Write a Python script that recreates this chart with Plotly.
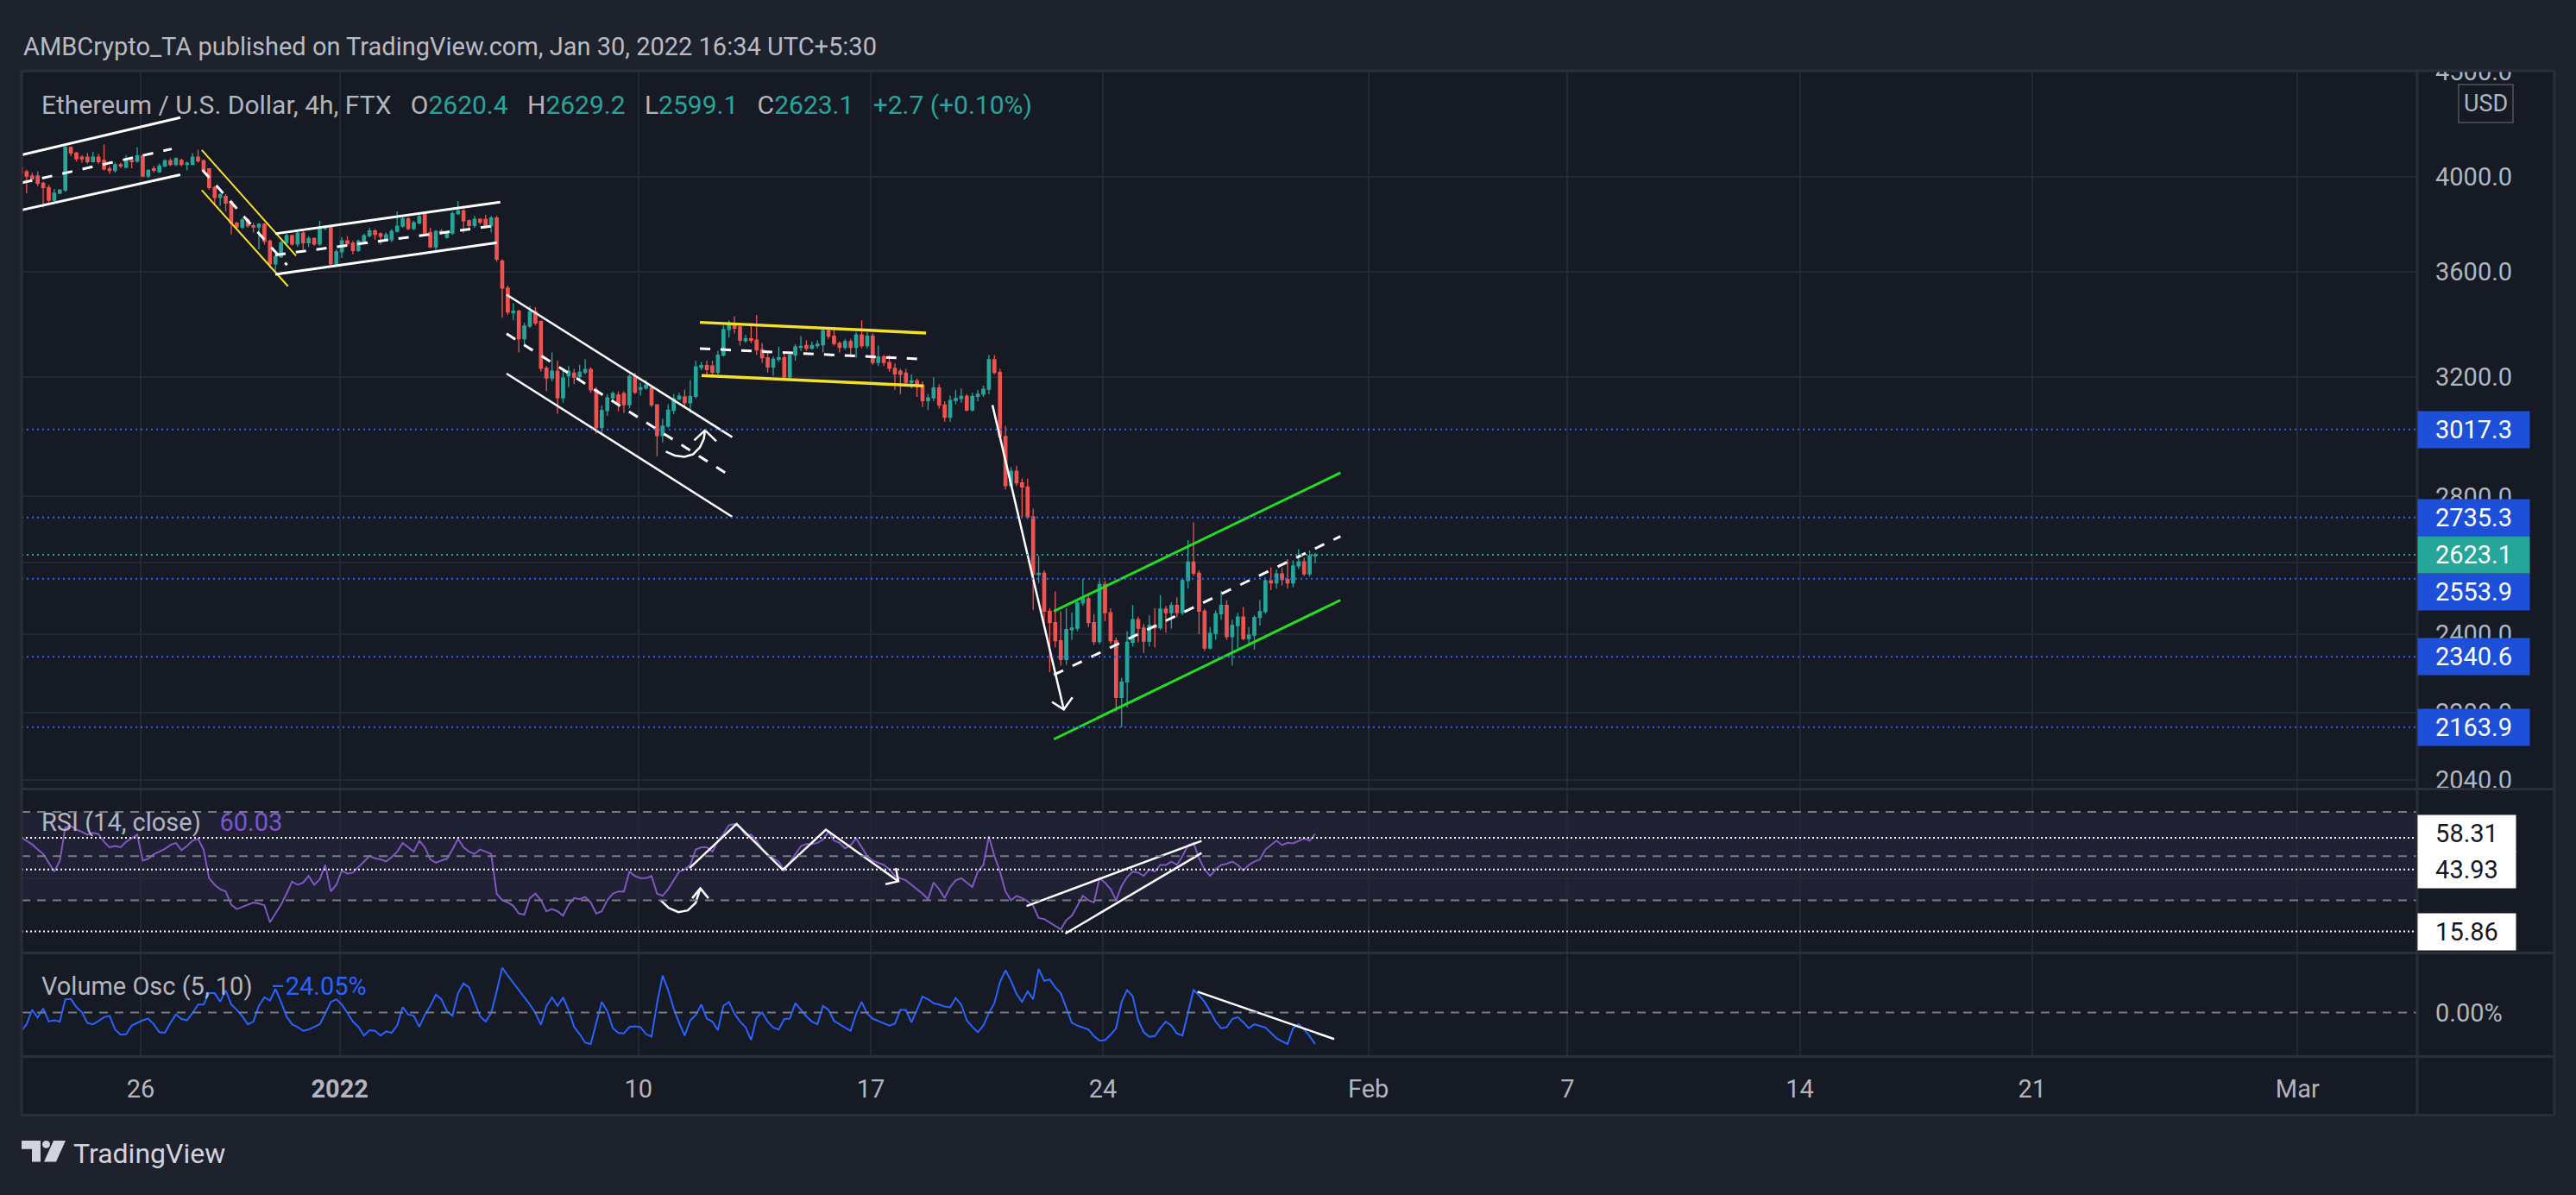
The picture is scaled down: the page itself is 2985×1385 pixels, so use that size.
import math
import pandas as pd
import plotly.graph_objects as go

W, H = 2985, 1385

# ---------------- data ----------------
times = pd.date_range("2021-12-22 09:30", periods=235, freq="4h")

opens = [
    4044, 4024, 4005, 4005, 3973, 3954, 3898, 3929, 3942, 4135,
    4109, 4090, 4090, 4070, 4090, 4076, 4037, 4030, 4056, 4044,
    4076, 4072, 4096, 4005, 4037, 4024, 4050, 4074, 4057, 4076,
    4057, 4057, 4090, 4074, 4037, 3954, 3910, 3915, 3892, 3800,
    3783, 3813, 3789, 3783, 3795, 3724, 3631, 3660, 3717, 3747,
    3712, 3758, 3717, 3735, 3712, 3777, 3785, 3631, 3680, 3725,
    3715, 3685, 3724, 3747, 3767, 3755, 3735, 3730, 3765, 3787,
    3818, 3777, 3801, 3835, 3760, 3700, 3765, 3740, 3758, 3840,
    3852, 3810, 3790, 3816, 3816, 3790, 3822, 3642, 3534, 3437,
    3444, 3339, 3387, 3441, 3404, 3231, 3196, 3221, 3126, 3204,
    3214, 3201, 3217, 3227, 3154, 3024, 3082, 3126, 3136, 3141,
    3102, 3201, 3156, 3161, 3161, 3102, 2997, 3029, 3083, 3122,
    3129, 3109, 3131, 3234, 3241, 3239, 3216, 3279, 3374, 3389,
    3384, 3332, 3339, 3334, 3299, 3269, 3236, 3264, 3269, 3199,
    3279, 3307, 3314, 3304, 3314, 3317, 3369, 3349, 3322, 3307,
    3329, 3307, 3354, 3314, 3349, 3252, 3272, 3252, 3231, 3221,
    3214, 3181, 3186, 3171, 3116, 3126, 3161, 3101, 3059, 3117,
    3124, 3131, 3084, 3131, 3139, 3156, 3262, 3216, 2994, 2834,
    2880, 2843, 2830, 2737, 2566, 2570, 2463, 2432, 2383, 2334,
    2413, 2417, 2486, 2498, 2432, 2381, 2538, 2459, 2383, 2237,
    2276, 2379, 2440, 2417, 2382, 2424, 2418, 2469, 2459, 2479,
    2459, 2549, 2602, 2570, 2463, 2364, 2403, 2456, 2479, 2394,
    2424, 2447, 2389, 2398, 2446, 2462, 2548, 2542, 2568, 2552,
    2542, 2591, 2603, 2568, 2620.4,
]
highs = [
    4056, 4034, 4020, 4025, 3980, 3965, 3948, 3948, 4148, 4140,
    4115, 4100, 4110, 4115, 4105, 4148, 4050, 4065, 4065, 4100,
    4085, 4135, 4105, 4035, 4050, 4060, 4080, 4085, 4090, 4083,
    4070, 4109, 4125, 4080, 4040, 3960, 3929, 3925, 3900, 3805,
    3821, 3820, 3800, 3800, 3800, 3730, 3670, 3725, 3755, 3752,
    3770, 3765, 3745, 3740, 3810, 3790, 3790, 3690, 3740, 3745,
    3725, 3730, 3755, 3780, 3775, 3760, 3760, 3775, 3850, 3835,
    3825, 3810, 3835, 3845, 3780, 3770, 3775, 3765, 3850, 3895,
    3860, 3815, 3830, 3820, 3835, 3830, 3830, 3649, 3544, 3474,
    3449, 3399, 3464, 3459, 3409, 3239, 3289, 3259, 3229, 3239,
    3229, 3244, 3264, 3234, 3164, 3099, 3139, 3149, 3149, 3149,
    3209, 3214, 3179, 3189, 3169, 3104, 3054, 3104, 3139, 3144,
    3154, 3189, 3259, 3254, 3259, 3259, 3294, 3389, 3409, 3424,
    3399, 3354, 3399, 3429, 3324, 3289, 3274, 3309, 3289, 3289,
    3319, 3349, 3334, 3329, 3334, 3384, 3384, 3384, 3329, 3339,
    3339, 3364, 3409, 3364, 3359, 3314, 3279, 3279, 3249, 3229,
    3229, 3209, 3194, 3184, 3139, 3199, 3174, 3114, 3134, 3154,
    3159, 3139, 3144, 3154, 3169, 3279, 3279, 3229, 3030, 2893,
    2898, 2857, 2857, 2762, 2620, 2578, 2472, 2518, 2463, 2471,
    2460, 2495, 2554, 2514, 2455, 2550, 2548, 2471, 2392, 2287,
    2409, 2480, 2448, 2428, 2453, 2471, 2508, 2478, 2488, 2502,
    2556, 2667, 2720, 2578, 2470, 2420, 2465, 2520, 2494, 2440,
    2458, 2475, 2420, 2452, 2494, 2558, 2587, 2580, 2585, 2611,
    2607, 2640, 2615, 2636, 2629.2,
]
lows = [
    4010, 3929, 3980, 3960, 3867, 3885, 3892, 3925, 3935, 4095,
    4070, 4065, 4060, 4065, 4060, 4030, 4015, 4020, 4040, 4040,
    4040, 4065, 4000, 3995, 4020, 4020, 4045, 4050, 4050, 4050,
    4030, 4055, 4065, 4025, 3945, 3874, 3874, 3850, 3752, 3775,
    3775, 3780, 3760, 3690, 3710, 3615, 3602, 3655, 3710, 3705,
    3700, 3690, 3700, 3705, 3705, 3770, 3625, 3620, 3655, 3705,
    3670, 3680, 3715, 3740, 3730, 3710, 3725, 3720, 3760, 3780,
    3770, 3770, 3795, 3750, 3695, 3677, 3750, 3735, 3750, 3835,
    3758, 3780, 3780, 3795, 3780, 3760, 3640, 3419, 3429, 3409,
    3289, 3309, 3379, 3389, 3219, 3149, 3184, 3071, 3109, 3164,
    3174, 3189, 3209, 3144, 3004, 2999, 3064, 3109, 3079, 3074,
    3089, 3139, 3134, 3154, 3094, 2929, 2974, 3024, 3069, 3117,
    3094, 3074, 3124, 3224, 3209, 3199, 3209, 3274, 3344, 3359,
    3314, 3324, 3324, 3279, 3251, 3216, 3204, 3254, 3189, 3184,
    3259, 3294, 3294, 3299, 3304, 3289, 3339, 3314, 3289, 3299,
    3279, 3269, 3304, 3304, 3244, 3239, 3239, 3219, 3154, 3139,
    3174, 3159, 3129, 3094, 3084, 3114, 3089, 3044, 3044, 3104,
    3109, 3079, 3079, 3114, 3129, 3139, 3209, 2984, 2822, 2828,
    2833, 2733, 2730, 2467, 2542, 2428, 2301, 2366, 2318, 2320,
    2386, 2409, 2478, 2420, 2372, 2374, 2436, 2375, 2202, 2164,
    2212, 2368, 2379, 2351, 2368, 2366, 2412, 2405, 2416, 2447,
    2453, 2526, 2562, 2401, 2356, 2360, 2386, 2440, 2386, 2318,
    2364, 2384, 2375, 2360, 2424, 2456, 2522, 2526, 2535, 2526,
    2530, 2582, 2562, 2560, 2599.1,
]
closes = [
    4018, 4005, 3992, 3973, 3954, 3898, 3929, 3942, 4135, 4109,
    4083, 4083, 4070, 4090, 4070, 4037, 4030, 4056, 4050, 4076,
    4070, 4096, 4005, 4031, 4031, 4050, 4074, 4057, 4083, 4057,
    4063, 4090, 4074, 4031, 3954, 3910, 3922, 3886, 3800, 3783,
    3813, 3789, 3783, 3795, 3724, 3631, 3660, 3717, 3747, 3712,
    3758, 3717, 3735, 3712, 3777, 3783, 3631, 3680, 3725, 3715,
    3685, 3724, 3747, 3767, 3752, 3744, 3750, 3765, 3787, 3818,
    3777, 3801, 3828, 3755, 3700, 3765, 3760, 3758, 3840, 3852,
    3810, 3790, 3816, 3804, 3790, 3822, 3650, 3534, 3441, 3444,
    3339, 3387, 3441, 3399, 3231, 3196, 3221, 3126, 3196, 3221,
    3199, 3217, 3227, 3154, 3024, 3082, 3126, 3141, 3107, 3102,
    3201, 3146, 3161, 3171, 3102, 2997, 3029, 3083, 3122, 3132,
    3109, 3131, 3236, 3241, 3226, 3216, 3279, 3374, 3399, 3379,
    3334, 3339, 3334, 3299, 3269, 3236, 3264, 3269, 3199, 3279,
    3309, 3311, 3304, 3314, 3319, 3369, 3349, 3322, 3307, 3329,
    3307, 3354, 3314, 3349, 3252, 3272, 3252, 3231, 3211, 3209,
    3181, 3186, 3171, 3116, 3126, 3161, 3101, 3059, 3117, 3124,
    3131, 3084, 3131, 3139, 3156, 3262, 3216, 2994, 2834, 2880,
    2843, 2830, 2737, 2566, 2570, 2463, 2432, 2383, 2334, 2413,
    2417, 2486, 2498, 2432, 2381, 2538, 2459, 2383, 2237, 2276,
    2379, 2440, 2417, 2382, 2424, 2418, 2469, 2459, 2479, 2459,
    2549, 2602, 2570, 2463, 2364, 2403, 2456, 2479, 2394, 2424,
    2447, 2389, 2398, 2446, 2462, 2548, 2542, 2568, 2552, 2542,
    2591, 2603, 2568, 2620.4, 2623.1,
]
rsi = [
    58.5, 57, 55.3, 53, 51, 47, 43, 48, 63, 63.6,
    62, 61, 59.7, 60.5, 60, 56.5, 54, 54.6, 54, 56.5,
    58, 59.7, 48, 48.8, 50.8, 52, 53.3, 55, 56, 52.7,
    54.6, 57, 57.8, 53, 40, 37, 35, 34, 28, 26,
    27, 28, 29, 28.5, 27.7, 20, 24, 28, 33, 38.5,
    37, 38, 41, 37, 39.5, 46, 34, 37, 43.5, 42,
    42.5, 45, 47.5, 50, 49, 48.5, 47.6, 49.5, 52, 56,
    54, 52, 57, 54, 48.5, 47, 48, 48.8, 53, 57.8,
    54, 52, 51, 53, 52, 51, 33, 30, 29, 27.5,
    24, 23.5, 31, 33, 30, 25, 26, 25, 23, 28,
    31, 30.5, 31.5, 29, 24, 25, 30, 33, 34, 34,
    43, 41, 40, 40, 41, 33, 32, 35, 39, 43,
    44, 46, 53, 54, 54, 52, 57, 60, 64, 64.5,
    63, 59.5, 59.7, 57, 53, 50.5, 49, 47.5, 43.5, 47,
    51, 54.5, 55.5, 55.5, 56, 57.5, 61, 57, 56, 53.5,
    55, 58, 54, 50, 48, 47, 46, 44, 41, 40,
    39, 37, 35, 33, 30.5, 38, 35, 31, 36, 39,
    40, 38, 36, 43, 46, 59, 50, 43, 34, 30,
    32, 31, 29.5, 27.5, 22, 21.5, 20, 18.5, 16.8, 21,
    23, 27.5, 32, 30, 29, 40, 38, 35, 30, 36.5,
    40.5, 43, 42.5, 41, 44, 43, 46, 46, 47.5, 46,
    50, 55, 56, 49, 44, 41, 44, 46, 46.5, 47.5,
    46, 43.5, 46, 47.5, 48.5, 53, 55, 57, 55, 56,
    55.8, 57, 58, 57, 60.03,
]
vol_osc = [
    -14.4, -9, 2, -4, 3, -6.9, -6, -7, 10, 10.3,
    4, 0, -8, -9, -6.5, -3.6, -2.6, -13, -17, -16.5,
    -10, -8, -6, -4.7, -9, -15, -15.5, -8, -1.5, -5,
    -6, -0.4, 6, 6, 14.6, 14.6, 8.2, 16.7, 6, 2,
    -3, -9, -7, 5, 11.4, 9, 17.8, 8, -3, -9,
    -11.2, -14, -13, -11, -9, -1, 8, 10, 6, -0.4,
    -7, -11, -17.6, -13.5, -14, -17.6, -14.4, -15.5, -10, 4,
    -1.5, -2.6, -11, -2, 5, 13.5, 10, 1, -2.6, 14.6,
    22, 19, 8.2, -3, -7, -0.4, 16, 34, 28, 22.5,
    17, 11, 6, -0.4, -9.5, 4.9, 11.4, 5, 11.4, 1.7,
    -11, -16.5, -23, -24, -8, 8, 1, -12, -15.5, -16,
    -11, -10.5, -11.2, -16.5, -18.5, 7, 28, 17, 3, -8,
    -17.6, -6, -2, 6, -4.7, -7, -13.5, 5, 8, -1,
    -6.9, -11.2, -21, -4, 0, -7, -11.5, -13, -5, -4.7,
    7, 1.7, -3, -7, -9, 5, 2, -6.5, -9, -11.2,
    -14, -1, 8, -1, -4.7, -6.5, -8, -10, -8.5, 2,
    1.7, -7.5, 2, 12, 10, 7, 6, 4.5, 3.9, 11,
    6, -6, -11, -15, -10, -0.5, 7, 23, 32, 24,
    14, 8, 16, 10, 33, 24, 25, 19, 14.6, 3,
    -8, -10, -11.5, -13, -18, -21.5, -21, -17, -12, 8,
    17, 12.4, -6, -15, -18.5, -18, -12, -7, -10, -16,
    -17.5, 0, 17, 13, 8, 1, -7, -12, -11.2, -5,
    -3.6, -7.5, -12, -9, -10, -11.5, -15.5, -19.7, -22, -24,
    -12, -9, -13, -18, -24.05,
]

price_levels = [3017.3, 2735.3, 2553.9, 2340.6, 2163.9]
last_price = 2623.1
rsi_levels = [58.31, 43.93, 15.86]
price_ticks = [2040, 2200, 2400, 2600, 2800, 3200, 3600, 4000, 4500]
price_tick_text = ["2040.0", "2200.0", "2400.0", "", "2800.0",
                   "3200.0", "3600.0", "4000.0", "4500.0"]
date_ticks = ["2021-12-26", "2022-01-01", "2022-01-10", "2022-01-17", "2022-01-24",
              "2022-02-01", "2022-02-07", "2022-02-14", "2022-02-21", "2022-03-01"]
date_tick_text = ["26", "<b>2022</b>", "10", "17", "24", "Feb", "7", "14", "21", "Mar"]
x_range = ["2021-12-22 09:51", "2022-03-04 14:35"]

# drawn trendlines (time, value)
ch1_up_t, ch1_up_p = ["2021-12-22 09:51", "2021-12-27 04:42"], [4101, 4275]
ch1_lo_t, ch1_lo_p = ["2021-12-22 10:04", "2021-12-27 04:40"], [3856, 4011]
ch1_mid_t, ch1_mid_p = ["2021-12-22 10:04", "2021-12-26 22:28"], [3975, 4128]
yl1_up_t, yl1_up_p = ["2021-12-27 20:11", "2021-12-30 16:21"], [4123, 3664]
yl1_lo_t, yl1_lo_p = ["2021-12-27 20:11", "2021-12-30 10:33"], [3942, 3541]
yl1_mid_t, yl1_mid_p = ["2021-12-27 20:40", "2021-12-30 09:52"], [4032, 3626]
ch2_up_t, ch2_up_p = ["2021-12-30 01:22", "2022-01-05 20:05"], [3755, 3890]
ch2_lo_t, ch2_lo_p = ["2021-12-30 01:22", "2022-01-05 17:47"], [3588, 3718]
ch2_mid_t, ch2_mid_p = ["2021-12-30 01:22", "2022-01-05 14:02"], [3667, 3787]
fall_t = ["2022-01-06 00:39", "2022-01-12 19:52"]
fall_up_p, fall_lo_p, fall_mid_p = [3508, 2992], [3212, 2737], [3358, 2861]
hook_t = ["2022-01-10 19:49", "2022-01-11 02:22", "2022-01-11 09:14", "2022-01-11 15:29",
          "2022-01-11 20:28", "2022-01-11 23:17", "2022-01-12 00:13"]
hook_p = [2944, 2931, 2927, 2935, 2958, 2986, 3015]
hook_head_t = ["2022-01-11 16:21", "2022-01-12 00:13", "2022-01-12 08:21"]
hook_head_p = [2981, 3015, 2978]
yl2_up_t, yl2_up_p = ["2022-01-11 20:28", "2022-01-18 16:00"], [3401, 3361]
yl2_lo_t, yl2_lo_p = ["2022-01-11 21:43", "2022-01-18 14:08"], [3205, 3168]
yl2_mid_t, yl2_mid_p = ["2022-01-11 20:28", "2022-01-18 14:08"], [3303, 3264]
drop_t, drop_p = ["2022-01-20 16:05", "2022-01-22 19:41"], [3101, 2207]
drop_head_t = ["2022-01-22 11:08", "2022-01-22 19:41", "2022-01-23 01:57"]
drop_head_p = [2226, 2207, 2237]
gr_t = ["2022-01-22 12:30", "2022-01-31 03:48"]
gr_up_p, gr_lo_p, gr_mid_p = [2463, 2875], [2135, 2494], [2294, 2678]

rsi_hook_t = ["2022-01-10 16:05", "2022-01-10 22:00", "2022-01-11 04:52", "2022-01-11 11:44",
              "2022-01-11 17:21", "2022-01-11 20:47"]
rsi_hook_v = [30, 26.5, 24.6, 25.4, 28.8, 35.4]
rsi_hook_head_t = ["2022-01-11 14:53", "2022-01-11 20:47", "2022-01-12 02:42"]
rsi_hook_head_v = [30.9, 35.4, 30.9]
rsi_zig_t = ["2022-01-11 12:58", "2022-01-12 23:02", "2022-01-14 08:24", "2022-01-15 15:36",
             "2022-01-17 20:02"]
rsi_zig_v = [44.6, 64.6, 43.8, 62.0, 38.6]
rsi_zig_head_t = ["2022-01-17 10:41", "2022-01-17 20:02", "2022-01-17 18:10"]
rsi_zig_head_v = [37.3, 38.6, 44.6]
rsi_wa_t, rsi_wa_v = ["2022-01-21 16:44", "2022-01-26 23:20"], [27.4, 56.9]
rsi_wb_t, rsi_wb_v = ["2022-01-22 20:46", "2022-01-26 23:20"], [14.9, 51.4]
vo_line_t, vo_line_v = ["2022-01-26 20:24", "2022-01-30 23:16"], [15.7, -20.2]

# ---------------- style ----------------
BG_OUT = "#1e222d"
BG_PANE = "#161a25"
GRID = "#242834"
BORDER = "#2a2e39"
TXT = "#b2b5be"
UP, DN = "#26a69a", "#ef5350"
BLUE, PURPLE = "#2962ff", "#7e57c2"
LBL_BLUE = "#1e4fd8"
YEL, GRN, WHT = "#f5e12a", "#22dd22", "#ffffff"
FONT = "Roboto"


def px(x):
    return x / W


def py(y):
    return 1 - y / H


XD = [px(25), px(2801)]
Y_MAIN = [py(913), py(67)]
Y_RSI = [py(1106), py(913)]
Y_VO = [py(1228), py(1106)]

fig = go.Figure()

fig.add_trace(go.Candlestick(
    x=times, open=opens, high=highs, low=lows, close=closes,
    increasing=dict(line=dict(color=UP, width=1.3), fillcolor=UP),
    decreasing=dict(line=dict(color=DN, width=1.3), fillcolor=DN),
    whiskerwidth=0, hoverinfo="skip", showlegend=False, xaxis="x", yaxis="y",
))
fig.add_trace(go.Scatter(x=times, y=rsi, mode="lines", line=dict(color=PURPLE, width=2),
                         xaxis="x2", yaxis="y2", hoverinfo="skip", showlegend=False))
fig.add_trace(go.Scatter(x=times, y=vol_osc, mode="lines", line=dict(color=BLUE, width=2),
                         xaxis="x3", yaxis="y3", hoverinfo="skip", showlegend=False))


def seg(t, v, color, width, dash=None, xa="x", ya="y"):
    fig.add_trace(go.Scatter(x=t, y=v, mode="lines",
                             line=dict(color=color, width=width, dash=dash),
                             xaxis=xa, yaxis=ya, hoverinfo="skip", showlegend=False))


DASH = "12px,12px"
seg(ch1_up_t, ch1_up_p, WHT, 3)
seg(ch1_lo_t, ch1_lo_p, WHT, 3)
seg(ch1_mid_t, ch1_mid_p, WHT, 3, DASH)
seg(yl1_up_t, yl1_up_p, YEL, 2)
seg(yl1_lo_t, yl1_lo_p, YEL, 2)
seg(yl1_mid_t, yl1_mid_p, WHT, 3, DASH)
seg(ch2_up_t, ch2_up_p, WHT, 3)
seg(ch2_lo_t, ch2_lo_p, WHT, 3)
seg(ch2_mid_t, ch2_mid_p, WHT, 3, DASH)
seg(fall_t, fall_up_p, WHT, 2.5)
seg(fall_t, fall_lo_p, WHT, 2.5)
seg(fall_t, fall_mid_p, WHT, 3, DASH)
seg(hook_t, hook_p, WHT, 2.5)
seg(hook_head_t, hook_head_p, WHT, 2.5)
seg(yl2_up_t, yl2_up_p, YEL, 3.5)
seg(yl2_lo_t, yl2_lo_p, YEL, 3.5)
seg(yl2_mid_t, yl2_mid_p, WHT, 3, DASH)
seg(drop_t, drop_p, WHT, 2.5)
seg(drop_head_t, drop_head_p, WHT, 2.5)
seg(gr_t, gr_up_p, GRN, 3)
seg(gr_t, gr_lo_p, GRN, 3)
seg(gr_t, gr_mid_p, WHT, 3, DASH)

seg(rsi_hook_t, rsi_hook_v, WHT, 2.5, None, "x2", "y2")
seg(rsi_hook_head_t, rsi_hook_head_v, WHT, 2.5, None, "x2", "y2")
seg(rsi_zig_t, rsi_zig_v, WHT, 2.5, None, "x2", "y2")
seg(rsi_zig_head_t, rsi_zig_head_v, WHT, 2.5, None, "x2", "y2")
seg(rsi_wa_t, rsi_wa_v, WHT, 2.5, None, "x2", "y2")
seg(rsi_wb_t, rsi_wb_v, WHT, 2.5, None, "x2", "y2")
seg(vo_line_t, vo_line_v, WHT, 2.5, None, "x3", "y3")

tickfont = dict(family=FONT, size=29, color=TXT)
xcommon = dict(type="date", range=x_range, domain=XD, showgrid=True, gridcolor=GRID,
               gridwidth=2, tickmode="array", tickvals=date_ticks, ticktext=date_tick_text,
               zeroline=False, showline=False, ticks="", fixedrange=True,
               rangeslider=dict(visible=False))

shapes = []
shapes.append(dict(type="rect", xref="paper", yref="paper", x0=px(25), x1=px(2960),
                   y0=py(1297), y1=py(67), fillcolor=BG_PANE, line=dict(width=0), layer="below"))
shapes.append(dict(type="rect", xref="x2 domain", yref="y2", x0=0, x1=1, y0=30, y1=70,
                   fillcolor="rgba(126,87,194,0.115)", line=dict(width=0), layer="below"))
for lv in (70, 50, 30):
    shapes.append(dict(type="line", xref="x2 domain", yref="y2", x0=0, x1=1, y0=lv, y1=lv,
                       line=dict(color="#787b86", width=2, dash="10px,8px")))
for lv in rsi_levels:
    shapes.append(dict(type="line", xref="x2 domain", yref="y2", x0=0, x1=1, y0=lv, y1=lv,
                       line=dict(color=WHT, width=2, dash="2px,3px")))
shapes.append(dict(type="line", xref="x3 domain", yref="y3", x0=0, x1=1, y0=0, y1=0,
                   line=dict(color="#787b86", width=2, dash="10px,8px")))
for lv in price_levels:
    shapes.append(dict(type="line", xref="x domain", yref="y", x0=0, x1=1, y0=lv, y1=lv,
                       line=dict(color=BLUE, width=2, dash="2px,4px")))
shapes.append(dict(type="line", xref="x domain", yref="y", x0=0, x1=1, y0=last_price,
                   y1=last_price, line=dict(color=UP, width=2, dash="2px,4px")))
shapes.append(dict(type="rect", xref="paper", yref="paper", x0=0, x1=1, y0=py(67), y1=1,
                   fillcolor=BG_OUT, line=dict(width=0), layer="above"))
for yy in (67, 913, 1106, 1228, 1297):
    shapes.append(dict(type="line", xref="paper", yref="paper", x0=px(25), x1=px(2960),
                       y0=py(yy), y1=py(yy), line=dict(color=BORDER, width=3), layer="above"))
for xx in (25, 2801, 2960):
    shapes.append(dict(type="line", xref="paper", yref="paper", x0=px(xx), x1=px(xx),
                       y0=py(1297), y1=py(67), line=dict(color=BORDER, width=3), layer="above"))
LOGO = "#d1d4dc"
tpath = "M {} {} L {} {} L {} {} L {} {} L {} {} L {} {} Z".format(
    px(25), py(1327), px(47), py(1327), px(47), py(1352),
    px(37), py(1352), px(37), py(1337), px(25), py(1337))
shapes.append(dict(type="path", xref="paper", yref="paper", path=tpath,
                   fillcolor=LOGO, line=dict(width=0)))
shapes.append(dict(type="circle", xref="paper", yref="paper", x0=px(49), x1=px(58),
                   y0=py(1336), y1=py(1327), fillcolor=LOGO, line=dict(width=0)))
spath = "M {} {} L {} {} L {} {} L {} {} Z".format(
    px(62), py(1327), px(76), py(1327), px(65), py(1352), px(51), py(1352))
shapes.append(dict(type="path", xref="paper", yref="paper", path=spath,
                   fillcolor=LOGO, line=dict(width=0)))

ann = []
ann.append(dict(xref="paper", yref="paper", x=px(25), y=py(39), xanchor="left", yanchor="middle",
                text="AMBCrypto_TA published on TradingView.com, Jan 30, 2022 16:34 UTC+5:30",
                showarrow=False, font=dict(family=FONT, size=29, color="#b8bbc4")))
NB = "\u00a0\u00a0\u00a0"
g = "<span style='color:%s'>%%s</span>" % UP
legend_txt = ("Ethereum / U.S. Dollar, 4h, FTX" + NB + "O" + g % "2620.4" + NB + "H" + g % "2629.2"
              + NB + "L" + g % "2599.1" + NB + "C" + g % "2623.1" + NB + g % "+2.7 (+0.10%)")
ann.append(dict(xref="paper", yref="paper", x=px(46), y=py(107), xanchor="left", yanchor="middle",
                text=legend_txt, showarrow=False, font=dict(family=FONT, size=30, color=TXT)))
ann.append(dict(xref="paper", yref="paper", x=px(46), y=py(952), xanchor="left", yanchor="middle",
                text="RSI (14, close)" + NB + "<span style='color:%s'>60.03</span>" % PURPLE,
                showarrow=False, font=dict(family=FONT, size=29, color=TXT)))
ann.append(dict(xref="paper", yref="paper", x=px(46), y=py(1145), xanchor="left", yanchor="middle",
                text="Volume Osc (5, 10)" + NB + "<span style='color:%s'>\u221224.05%%</span>" % BLUE,
                showarrow=False, font=dict(family=FONT, size=29, color=TXT)))
ann.append(dict(xref="paper", yref="paper", x=px(2880), y=py(106), xanchor="center",
                yanchor="middle", text="USD", showarrow=False, bgcolor=BG_PANE,
                bordercolor="#434651", borderwidth=2, borderpad=5,
                font=dict(family=FONT, size=27, color=TXT)))
label_shift = {2553.9: -15}
for lv in price_levels + [last_price]:
    ann.append(dict(xref="paper", yref="y", x=px(2801), y=math.log10(lv), xanchor="left",
                    yanchor="middle", yshift=label_shift.get(lv, 0), text="%.1f" % lv,
                    showarrow=False, width=129, height=42, borderpad=0, align="center",
                    bgcolor=UP if lv == last_price else LBL_BLUE,
                    font=dict(family=FONT, size=29, color="#ffffff")))
rsi_shift = {58.31: 5}
for lv in rsi_levels:
    ann.append(dict(xref="paper", yref="y2", x=px(2801), y=lv, xanchor="left", yanchor="middle",
                    yshift=rsi_shift.get(lv, 0), text="%.2f" % lv, showarrow=False,
                    width=113, height=42, borderpad=0, align="center", bgcolor="#ffffff",
                    font=dict(family=FONT, size=29, color="#131722")))
ann.append(dict(xref="paper", yref="paper", x=px(83), y=py(1342), xanchor="left",
                yanchor="middle", text="TradingView", showarrow=False,
                font=dict(family=FONT, size=32, color=LOGO)))

fig.update_layout(
    width=W, height=H, autosize=False, margin=dict(l=0, r=0, t=0, b=0),
    paper_bgcolor=BG_OUT, plot_bgcolor="rgba(0,0,0,0)", hovermode=False,
    showlegend=False, boxgap=0.25, font=dict(family=FONT, color=TXT),
    xaxis=dict(xcommon, anchor="y", showticklabels=False),
    xaxis2=dict(xcommon, anchor="y2", showticklabels=False),
    xaxis3=dict(xcommon, anchor="y3", showticklabels=True, tickfont=tickfont,
                ticklabelstandoff=18),
    yaxis=dict(type="log", domain=Y_MAIN, range=[math.log10(2019.4), math.log10(4505)],
               side="right", anchor="x", tickmode="array", tickvals=price_ticks,
               ticktext=price_tick_text, showgrid=True, gridcolor=GRID, gridwidth=2,
               zeroline=False, ticks="", tickfont=tickfont, ticklabelstandoff=20,
               fixedrange=True),
    yaxis2=dict(domain=Y_RSI, range=[6.15, 80.38], side="right", anchor="x2",
                tickmode="array", tickvals=[40, 80], showticklabels=False, showgrid=True,
                gridcolor=GRID, gridwidth=2, zeroline=False, ticks="", fixedrange=True),
    yaxis3=dict(domain=Y_VO, range=[-33.5, 45.2], side="right", anchor="x3",
                tickmode="array", tickvals=[0], ticktext=["0.00%"], showgrid=False,
                zeroline=False, ticks="", tickfont=tickfont, ticklabelstandoff=20,
                fixedrange=True),
    shapes=shapes, annotations=ann,
)

fig.write_html("out.html", config={"displayModeBar": False},
               post_script="document.body.style.margin='0';"
                           "document.body.style.overflow='hidden';")
